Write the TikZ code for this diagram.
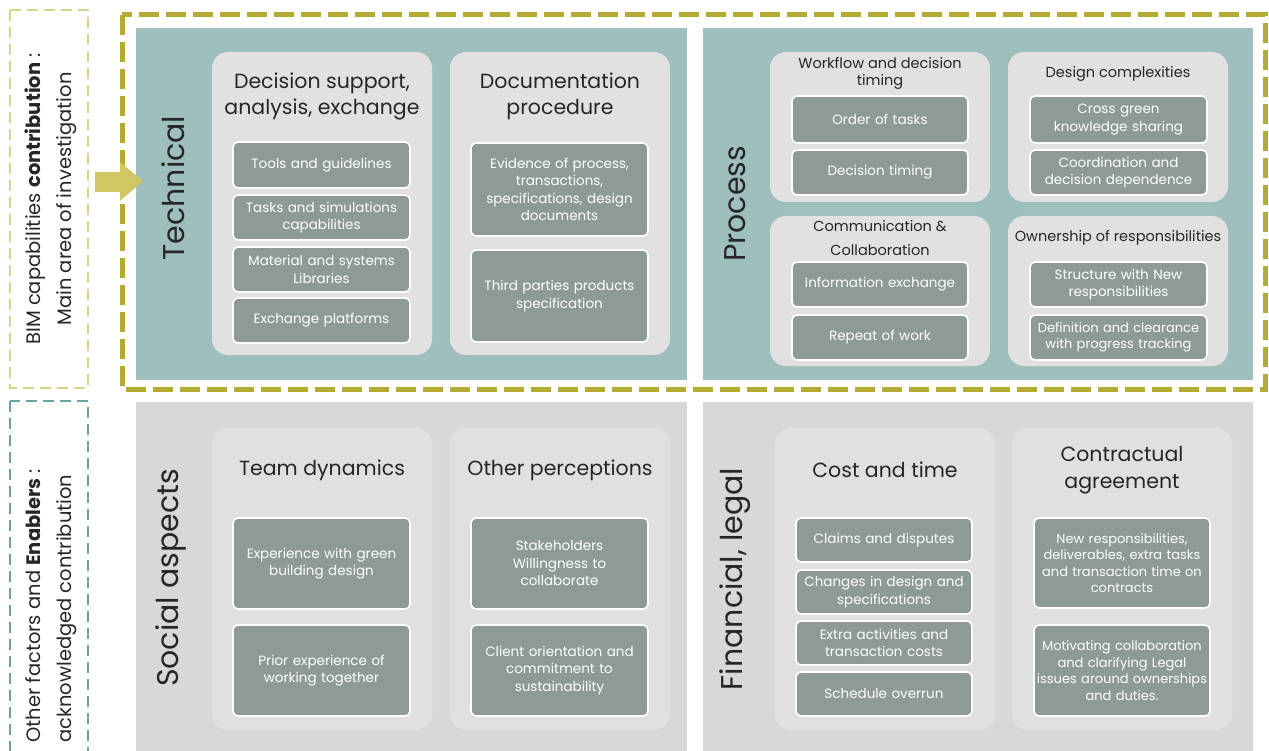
\documentclass[tikz,border=0pt]{standalone}
\usepackage{fontspec}
\setmainfont{Poppins}
\definecolor{tealpanel}{HTML}{9EBFBE}
\definecolor{greypanel}{HTML}{D8D8D8}
\definecolor{grpT}{HTML}{E0E1E0}
\definecolor{grpG}{HTML}{DFE0DF}
\definecolor{itemc}{HTML}{8E9B95}
\definecolor{olive}{HTML}{B3AB33}
\definecolor{lightolive}{HTML}{D6D48A}
\definecolor{arrowc}{HTML}{CFC762}
\definecolor{tealdash}{HTML}{6AA3A0}
\definecolor{txt}{HTML}{262626}
\tikzset{
  grp/.style={draw=none, inner sep=0pt},
  item/.style={fill=itemc, draw=white, line width=1.6pt, rounded corners=5pt, text=white,
     align=center, inner sep=0pt, font=\fontsize{13.5}{17.5}\selectfont},
  itemsm/.style={item, font=\fontsize{13}{16.5}\selectfont},
  bigtitle/.style={text=txt, align=center, font=\fontsize{20.5}{26}\selectfont, inner sep=0pt},
  smalltitle/.style={text=txt, align=center, font=\fontsize{14.5}{17}\selectfont, inner sep=0pt},
  sidelabel/.style={text=txt, rotate=90, font=\fontsize{30}{34}\selectfont, inner sep=0pt},
  leftlabel/.style={text=txt, rotate=90, font=\fontsize{19.5}{31}\selectfont, inner sep=0pt},
}
% name, x1, y1, x2, y2, style, text
\newcommand\mybox[7]{%
  \node[#6, minimum width={#4pt-#2pt}, minimum height={#5pt-#3pt}, text width={#4pt-#2pt}]
    (#1) at ({(#2+#4)/2},{(#3+#5)/2}) {#7};}
\newcommand\mygrp[6]{%
  \node[grp, rounded corners=16pt, fill=#6, minimum width={#4pt-#2pt}, minimum height={#5pt-#3pt}]
    (#1) at ({(#2+#4)/2},{(#3+#5)/2}) {};}
\newcommand\mypanel[6]{%
  \node[grp, fill=#6, minimum width={#4pt-#2pt}, minimum height={#5pt-#3pt}]
    (#1) at ({(#2+#4)/2},{(#3+#5)/2}) {};}
\begin{document}
\begin{tikzpicture}[x=1pt, y=-1pt]
\useasboundingbox[fill=white] (0,0) rectangle (1269,751);
\clip (0,0) rectangle (1269,751);

% panels
\mypanel{tech}{136}{28}{687}{380}{tealpanel}
\mypanel{proc}{703}{28}{1253}{380}{tealpanel}
\mypanel{soc}{136}{402}{687}{760}{greypanel}
\mypanel{fin}{703}{402}{1253}{760}{greypanel}

% side labels
\node[sidelabel] (lTech) at (173,188) {Technical};
\node[sidelabel] (lProc) at (735,204) {Process};
\node[sidelabel] (lSoc) at (171,578) {Social aspects};
\node[sidelabel] (lFin) at (735,579) {Financial, legal};

% ---------- Technical ----------
\mygrp{gDec}{212}{52}{432}{355}{grpT}
\node[bigtitle] (tDec) at (322,96) {Decision support,\\analysis, exchange};
\mybox{i1}{233}{142}{410}{188}{item}{Tools and guidelines}
\mybox{i2}{233}{195}{410}{240}{item}{Tasks and simulations\\capabilities}
\mybox{i3}{233}{247}{410}{292}{item}{Material and systems\\Libraries}
\mybox{i4}{233}{298}{410}{343}{item}{Exchange platforms}

\mygrp{gDoc}{450}{52}{670}{355}{grpT}
\node[bigtitle] (tDoc) at (560,96) {Documentation\\procedure};
\mybox{i5}{471}{143}{648}{236}{item}{Evidence of process,\\transactions,\\specifications, design\\documents}
\mybox{i6}{471}{250}{648}{342}{item}{Third parties products\\specification}

% ---------- Process ----------
\mygrp{gWf}{770}{52}{990}{202}{grpT}
\node[smalltitle] (tWf) at (880,73) {Workflow and decision\\timing};
\mybox{p1}{792}{96}{968}{143}{item}{Order of tasks}
\mybox{p2}{792}{150}{968}{195}{item}{Decision timing}

\mygrp{gDc}{1008}{52}{1228}{202}{grpT}
\node[smalltitle] (tDc) at (1118,74) {Design complexities};
\mybox{p3}{1030}{96}{1207}{143}{item}{Cross green\\knowledge sharing}
\mybox{p4}{1030}{150}{1207}{195}{item}{Coordination and\\decision dependence}

\mygrp{gCc}{770}{216}{990}{366}{grpT}
\node[smalltitle, font=\fontsize{14.5}{24}\selectfont] (tCc) at (880,238) {Communication \&\\Collaboration};
\mybox{p5}{792}{262}{968}{307}{item}{Information exchange}
\mybox{p6}{792}{315}{968}{360}{item}{Repeat of work}

\mygrp{gOw}{1008}{216}{1228}{366}{grpT}
\node[smalltitle] (tOw) at (1118,238) {Ownership of responsibilities};
\mybox{p7}{1030}{262}{1207}{307}{item}{Structure with New\\responsibilities}
\mybox{p8}{1030}{315}{1207}{360}{itemsm}{Definition and clearance\\with progress tracking}

% ---------- Social ----------
\mygrp{gTd}{212}{428}{432}{730}{grpG}
\node[bigtitle] (tTd) at (322,470) {Team dynamics};
\mybox{s1}{233}{518}{410}{609}{item}{Experience with green\\building design}
\mybox{s2}{233}{625}{410}{716}{item}{Prior experience of\\working together}

\mygrp{gOp}{450}{428}{670}{730}{grpG}
\node[bigtitle] (tOp) at (560,470) {Other perceptions};
\mybox{s3}{471}{518}{648}{609}{item}{Stakeholders\\Willingness to\\collaborate}
\mybox{s4}{471}{625}{648}{716}{item}{Client orientation and\\commitment to\\sustainability}

% ---------- Financial ----------
\mygrp{gCt}{775}{428}{995}{730}{grpG}
\node[bigtitle, font=\fontsize{20.5}{27}\selectfont] (tCt) at (885,470) {Cost and time};
\mybox{f1}{796}{518}{972}{562}{item}{Claims and disputes}
\mybox{f2}{796}{570}{972}{614}{item}{Changes in design and\\specifications}
\mybox{f3}{796}{621}{972}{665}{item}{Extra activities and\\transaction costs}
\mybox{f4}{796}{672}{972}{716}{item}{Schedule overrun}

\mygrp{gCa}{1012}{428}{1232}{730}{grpG}
\node[bigtitle, font=\fontsize{20.5}{27}\selectfont] (tCa) at (1122,470) {Contractual\\agreement};
\mybox{f5}{1034}{518}{1210}{608}{itemsm}{New responsibilities,\\deliverables, extra tasks\\and transaction time on\\contracts}
\mybox{f6}{1034}{625}{1210}{716}{itemsm}{Motivating collaboration\\and clarifying Legal\\issues around ownerships\\and duties.}

% ---------- dashed frames ----------
\draw[olive, line width=5pt, dash pattern=on 20pt off 7pt] (122,15) rectangle (1265,389);
\draw[lightolive, line width=2.6pt, dash pattern=on 11pt off 6pt] (10,10) rectangle (88,388);
\draw[tealdash, line width=2.6pt, dash pattern=on 11pt off 6pt] (10,401) rectangle (88,770);

\node[leftlabel, align=center] (lBim) at (51,199) {BIM capabilities \textbf{contribution} :\\Main area of investigation};
\node[leftlabel, align=left, anchor=west] (lOth) at (51,743) {Other factors and \textbf{Enablers} :\\acknowledged contribution};

% arrow
\fill[arrowc] (95,172) -- (120,172) -- (120,162) -- (143,181) -- (120,201) -- (120,192) -- (95,192) -- cycle;
\end{tikzpicture}
\end{document}
